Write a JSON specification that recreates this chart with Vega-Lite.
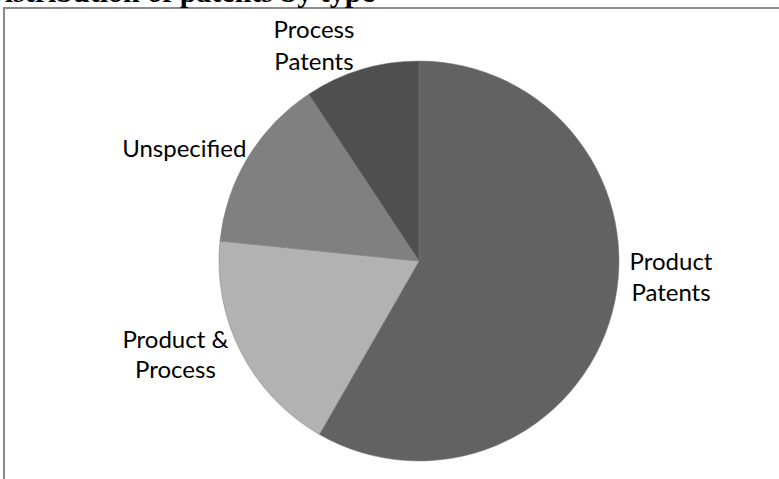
{
  "$schema": "https://vega.github.io/schema/vega-lite/v6.json",
  "autosize": "none",
  "width": 830,
  "height": 506,
  "padding": {"left": 4, "top": 8, "right": 0, "bottom": 0},
  "background": "white",
  "view": {"stroke": "#8a8a8a", "strokeWidth": 2, "fill": null},
  "title": {
    "text": "Distribution of patents by type",
    "font": "Liberation Serif",
    "fontSize": 30,
    "fontWeight": "bold",
    "color": "#000000",
    "anchor": "start",
    "offset": 0,
    "dx": -21,
    "dy": 0
  },
  "data": {
    "values": [
      {"type": "Product\nPatents", "ord": 1, "share": 58.3},
      {"type": "Product &\nProcess", "ord": 2, "share": 18.3},
      {"type": "Unspecified", "ord": 3, "share": 14.1},
      {"type": "Process\nPatents", "ord": 4, "share": 9.3}
    ]
  },
  "transform": [
    {"stack": "share", "groupby": [], "sort": [{"field": "ord", "order": "ascending"}], "as": ["s0", "s1"]}
  ],
  "encoding": {
    "theta": {"field": "s0", "type": "quantitative", "scale": {"domain": [0, 100]}},
    "theta2": {"field": "s1"}
  },
  "layer": [
    {
      "mark": {"type": "arc", "outerRadius": 200, "stroke": "#7a7a7a", "strokeWidth": 0.5},
      "encoding": {
        "color": {
          "field": "type",
          "type": "nominal",
          "scale": {
            "domain": ["Product\nPatents", "Product &\nProcess", "Unspecified", "Process\nPatents"],
            "range": ["#626262", "#b2b2b2", "#808080", "#4f4f4f"]
          },
          "legend": null
        }
      }
    },
    {
      "transform": [{"filter": "datum.ord == 1"}],
      "mark": {"type": "text", "radius": 252, "dx": 252, "dy": 254, "font": "Lato", "fontSize": 24, "lineBreak": "\n", "lineHeight": 31, "align": "center", "baseline": "middle", "color": "#000000"},
      "encoding": {"text": {"field": "type", "type": "nominal"}}
    },
    {
      "transform": [{"filter": "datum.ord == 2"}],
      "mark": {"type": "text", "radius": 252, "dx": -118, "dy": -139, "font": "Lato", "fontSize": 24, "lineBreak": "\n", "lineHeight": 30, "align": "center", "baseline": "middle", "color": "#000000"},
      "encoding": {"text": {"field": "type", "type": "nominal"}}
    },
    {
      "transform": [{"filter": "datum.ord == 3"}],
      "mark": {"type": "text", "radius": 252, "dx": 16, "dy": -86, "font": "Lato", "fontSize": 24, "align": "center", "baseline": "middle", "color": "#000000"},
      "encoding": {"text": {"field": "type", "type": "nominal"}}
    },
    {
      "transform": [{"filter": "datum.ord == 4"}],
      "mark": {"type": "text", "radius": 252, "dx": 34, "dy": -20, "font": "Lato", "fontSize": 24, "lineBreak": "\n", "lineHeight": 32, "align": "center", "baseline": "middle", "color": "#000000"},
      "encoding": {"text": {"field": "type", "type": "nominal"}}
    }
  ]
}
